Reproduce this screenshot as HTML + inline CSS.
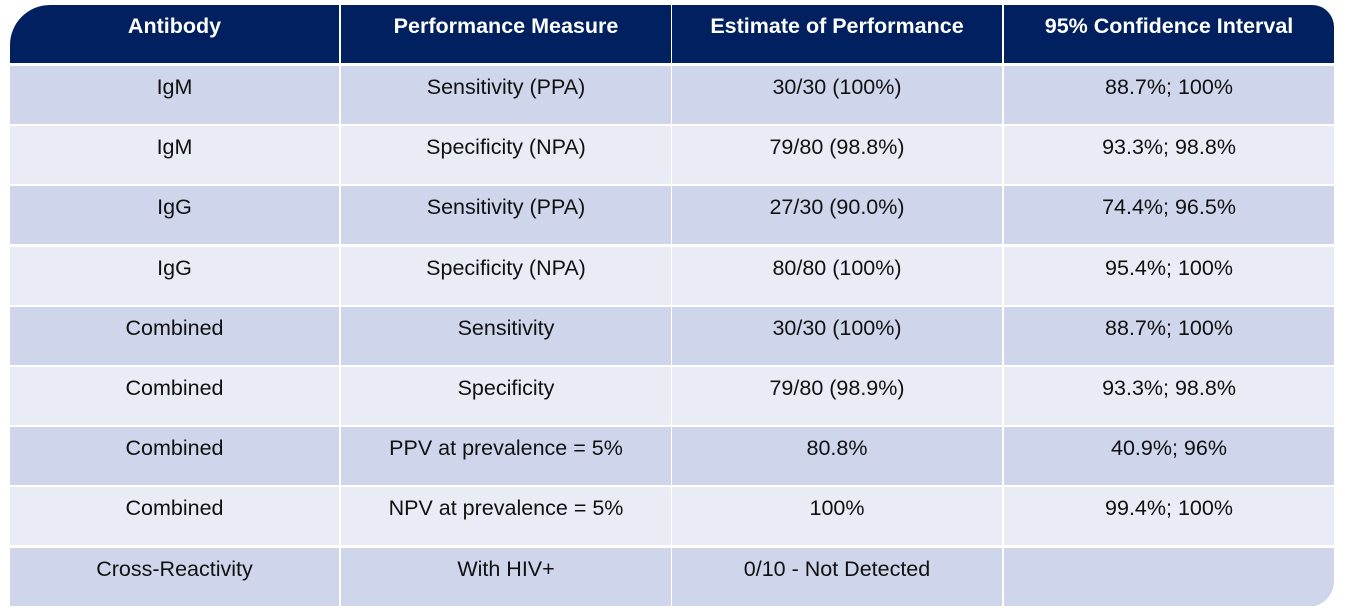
<!DOCTYPE html>
<html><head><style>
body{margin:0;width:1347px;height:613px;background:#fff;overflow:hidden;font-family:"Liberation Sans",sans-serif;}
.wrap{position:absolute;left:10px;top:5px;width:1324px;height:602px;border-radius:40px 22px 26px 0;overflow:hidden;background:#fff;}
.c{position:absolute;text-align:center;font-size:21.5px;color:#111;box-sizing:border-box;padding-top:9px;}
.h{background:#002060;color:#fff;font-weight:bold;font-size:21.5px;padding-top:9px;}
.o{background:#CFD5EA}.e{background:#E9EBF5}
</style></head><body><div class="wrap" id="w"></div>
<script>
const cols=[[0,329],[331,330],[662,330],[994,330]];
const rows=[["Antibody","Performance Measure","Estimate of Performance","95% Confidence Interval"],
["IgM","Sensitivity (PPA)","30/30 (100%)","88.7%; 100%"],
["IgM","Specificity (NPA)","79/80 (98.8%)","93.3%; 98.8%"],
["IgG","Sensitivity (PPA)","27/30 (90.0%)","74.4%; 96.5%"],
["IgG","Specificity (NPA)","80/80 (100%)","95.4%; 100%"],
["Combined","Sensitivity","30/30 (100%)","88.7%; 100%"],
["Combined","Specificity","79/80 (98.9%)","93.3%; 98.8%"],
["Combined","PPV at prevalence = 5%","80.8%","40.9%; 96%"],
["Combined","NPV at prevalence = 5%","100%","99.4%; 100%"],
["Cross-Reactivity","With HIV+","0/10 - Not Detected",""]];
let h="";
rows.forEach((r,i)=>{let top=i==0?0:61+60.2*(i-1);let ht=58;
r.forEach((t,j)=>{let cl=i==0?"h":(i%2?"o":"e");
h+=`<div class="c ${cl}" style="left:${cols[j][0]}px;width:${cols[j][1]}px;top:${top}px;height:${ht}px">${t}</div>`;});});
document.getElementById("w").innerHTML=h;
</script></body></html>
